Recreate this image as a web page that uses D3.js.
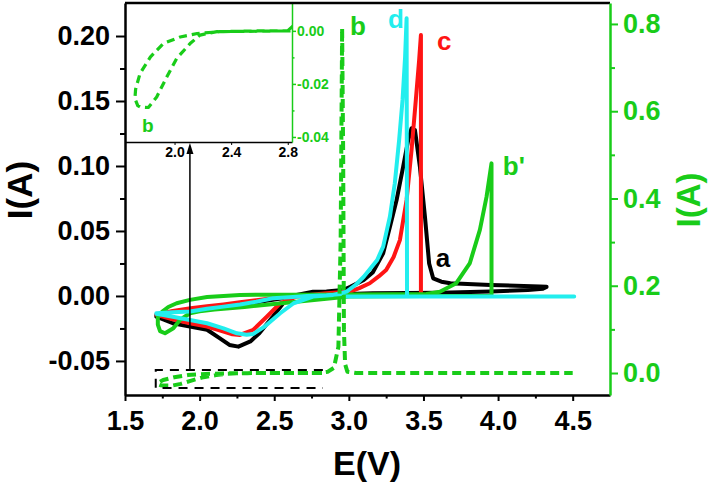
<!DOCTYPE html>
<meta charset="utf-8">
<style>
body { margin: 0; background: #fff; }
svg { font-family: Arial, "Liberation Sans", sans-serif; font-weight: bold; }
.curve { fill: none; stroke-width: 4px; stroke-linejoin: round; stroke-linecap: round; }
</style>
<body>
<script src="https://d3js.org/d3.v7.min.js"></script>
<script>

// ticks and labels
var xTicks = [1.5, 2.0, 2.5, 3.0, 3.5, 4.0, 4.5];
var xTickLabels = ["1.5", "2.0", "2.5", "3.0", "3.5", "4.0", "4.5"];
var xMinor = [1.75, 2.25, 2.75, 3.25, 3.75, 4.25];
var leftTicks = [-0.05, 0, 0.05, 0.10, 0.15, 0.20];
var leftTickLabels = ["-0.05", "0.00", "0.05", "0.10", "0.15", "0.20"];
var leftMinor = [-0.025, 0.025, 0.075, 0.125, 0.175];
var rightTicks = [0, 0.2, 0.4, 0.6, 0.8];
var rightTickLabels = ["0.0", "0.2", "0.4", "0.6", "0.8"];
var rightMinor = [0.1, 0.3, 0.5, 0.7];
var insetXTicks = [2.0, 2.4, 2.8];
var insetXTickLabels = ["2.0", "2.4", "2.8"];
var insetYTicks = [0, -0.02, -0.04];
var insetYTickLabels = ["0.00", "-0.02", "-0.04"];
var insetYMinor = [-0.01, -0.03];

// curve a (black), [E, I] on left axis
var curveA = [
  [2.96, 0.003], [2.85, 0.0028], [2.72, 0.0012], [2.6, -0.001], [2.49, -0.003], [2.38, -0.0048],
  [2.27, -0.0069], [2.16, -0.0085], [2.05, -0.0097], [1.94, -0.0108], [1.82, -0.0122], [1.71, -0.0146],
  [1.71, -0.016], [1.82, -0.021], [1.935, -0.0236], [2.05, -0.026], [2.136, -0.0326], [2.20, -0.0377],
  [2.26, -0.039], [2.34, -0.035], [2.40, -0.0287], [2.49, -0.016], [2.56, -0.0056], [2.65, 0.0008],
  [2.76, 0.0033], [2.85, 0.0035], [2.96, 0.0046], [3.01, 0.007], [3.10, 0.0123], [3.16, 0.018],
  [3.23, 0.0328], [3.275, 0.053], [3.32, 0.0738], [3.364, 0.0995], [3.398, 0.12], [3.42, 0.129],
  [3.443, 0.1277], [3.476, 0.0995], [3.51, 0.061], [3.538, 0.025], [3.565, 0.0136], [3.62, 0.011],
  [3.68, 0.0098], [3.95, 0.0085], [4.28, 0.0072], [4.325, 0.007],
  [4.30, 0.0055], [4.2, 0.0045], [3.95, 0.0035], [3.61, 0.0025], [3.16, 0.002], [3.0, 0.0015]
];

// curve c (red)
var curveC = [
  [3.0, 0.0005], [2.85, 0.0005], [2.72, 0.0], [2.6, -0.0008], [2.49, -0.0018], [2.38, -0.0032],
  [2.27, -0.0048], [2.16, -0.0065], [2.05, -0.008], [1.94, -0.0095], [1.82, -0.0115], [1.71, -0.0142],
  [1.71, -0.0145], [1.82, -0.018], [1.935, -0.021], [2.05, -0.0235], [2.15, -0.027], [2.22, -0.0295],
  [2.27, -0.030], [2.36, -0.026], [2.45, -0.016], [2.54, -0.0056], [2.65, -0.0005], [2.75, 0.001],
  [2.85, 0.002], [2.96, 0.003], [3.007, 0.0033], [3.07, 0.006], [3.14, 0.0098], [3.20, 0.015],
  [3.25, 0.02], [3.30, 0.03], [3.342, 0.043], [3.387, 0.0738], [3.42, 0.112], [3.449, 0.151],
  [3.471, 0.1815], [3.483, 0.2008], [3.483, 0.0], [3.3, 0.0], [3.0, 0.0005]
];

// curve d (cyan)
var curveD = [
  [2.95, 0.0015], [2.85, 0.0005], [2.72, 0.0], [2.6, -0.001], [2.49, -0.0018], [2.38, -0.0044],
  [2.27, -0.0065], [2.16, -0.0082], [2.05, -0.0098], [1.935, -0.012], [1.82, -0.0125], [1.71, -0.0133],
  [1.71, -0.0138], [1.82, -0.016], [1.935, -0.0185], [2.05, -0.021], [2.16, -0.0249], [2.25, -0.0287],
  [2.315, -0.0298], [2.36, -0.0292], [2.43, -0.024], [2.54, -0.0133], [2.63, -0.0056], [2.76, -0.0005],
  [2.895, 0.0008], [2.985, 0.0033], [3.05, 0.009], [3.10, 0.0148], [3.19, 0.0277], [3.23, 0.038],
  [3.275, 0.061], [3.308, 0.0867], [3.337, 0.12], [3.36, 0.151], [3.377, 0.184], [3.387, 0.2136],
  [3.39, -0.0005], [4.51, -0.0005], [2.97, -0.0005]
];

// curve b' (green solid, left axis)
var curveB1 = [
  [1.72, -0.016], [1.75, -0.012], [1.79, -0.0085], [1.846, -0.0056], [1.935, -0.003], [2.05, -0.0008],
  [2.27, 0.0008], [2.6, 0.001], [3.0, 0.0012], [3.3, 0.0013], [3.52, 0.0015], [3.61, 0.0033],
  [3.72, 0.0098], [3.81, 0.025], [3.878, 0.0508], [3.923, 0.0764], [3.956, 0.102], [3.956, 0.0],
  [3.5, 0.0], [3.0, -0.0005], [2.6, -0.005], [2.3, -0.0085], [2.1, -0.0105], [2.0, -0.0118],
  [1.935, -0.0133], [1.868, -0.0185], [1.824, -0.0249], [1.768, -0.0287], [1.735, -0.027],
  [1.72, -0.022], [1.72, -0.016]
];

// curve b (green dashed, right axis and inset)
var curveB = [
  [2.82, 0.0], [2.6, 0.0], [2.4, -0.0002], [2.32, -0.0003], [2.16, -0.001], [2.04, -0.0023],
  [1.92, -0.0048], [1.83, -0.0098], [1.756, -0.0161], [1.725, -0.022], [1.72, -0.0255],
  [1.74, -0.0282], [1.756, -0.0287], [1.815, -0.0289], [1.874, -0.0249], [1.945, -0.0174],
  [2.015, -0.0104], [2.11, -0.0048], [2.18, -0.0016], [2.25, -0.0008], [2.3, -0.0003],
  [2.5, -0.0002], [2.8, 0.0], [2.86, 0.003], [2.90, 0.012], [2.93, 0.06], [2.945, 0.3],
  [2.955, 0.79], [2.962, 0.5], [2.967, 0.1], [2.975, 0.02], [2.99, 0.003], [3.05, 0.0], [4.5, 0.0]
];

// zoom box around the b region (E, I on left axis)
var zoomBox = [[2.826, -0.0569], [1.706, -0.0569], [1.706, -0.0708], [2.826, -0.0708]];

var green = "#19cc19";

var svg = d3.select("body").append("svg")
    .attr("width", 708)
    .attr("height", 485);

var x = d3.scaleLinear().domain([1.5, 4.75]).range([125, 610]);
var yL = d3.scaleLinear().domain([-0.0762, 0.2254]).range([395, 3]);
var yR = d3.scaleLinear().domain([-0.0504, 0.848]).range([395, 3]);
var ix = d3.scaleLinear().domain([1.65, 2.83]).range([125, 292]);
var iy = d3.scaleLinear().domain([-0.0419, 0.0105]).range([142, 3]);

svg.append("clipPath").attr("id", "plotclip")
  .append("rect").attr("x", 125).attr("y", 3).attr("width", 485).attr("height", 392);
svg.append("clipPath").attr("id", "insetclip")
  .append("rect").attr("x", 125).attr("y", 3).attr("width", 167).attr("height", 139);

var lineL = d3.line().x(function(d) { return x(d[0]); }).y(function(d) { return yL(d[1]); });
var lineR = d3.line().x(function(d) { return x(d[0]); }).y(function(d) { return yR(d[1]); });
var lineI = d3.line().x(function(d) { return ix(d[0]); }).y(function(d) { return iy(d[1]); });

var plot = svg.append("g").attr("clip-path", "url(#plotclip)");

plot.append("path").datum(curveA).attr("class", "curve").attr("stroke", "#000").attr("d", lineL);
plot.append("path").datum(curveC).attr("class", "curve").attr("stroke", "#ff1414").attr("d", lineL);
plot.append("path").datum(curveB1).attr("class", "curve").attr("stroke", green).attr("d", lineL);
plot.append("path").datum(curveD).attr("class", "curve").attr("stroke", "#22eeee").attr("d", lineL);
plot.append("path").datum(curveB).attr("class", "curve").attr("stroke", green)
    .style("stroke-dasharray", "9,5").style("stroke-linecap", "butt").attr("d", lineR);

// dashed zoom box
plot.append("path").datum(zoomBox)
    .attr("fill", "none").attr("stroke", "#000").attr("stroke-width", 2)
    .style("stroke-dasharray", "9,7").attr("d", lineL);

// arrow up to the inset
var ax = x(1.935);
svg.append("line").attr("x1", ax).attr("x2", ax).attr("y1", yL(-0.0569)).attr("y2", 150)
    .attr("stroke", "#000").attr("stroke-width", 1.5);
svg.append("path").attr("d", "M" + ax + ",143L" + (ax - 3.5) + ",154L" + (ax + 3.5) + ",154Z").attr("fill", "#000");

// curve labels
function label(t, px, py, col, size) {
  svg.append("text").attr("x", px).attr("y", py).attr("fill", col)
      .style("font-size", size + "px").text(t);
}
label("d", x(3.262), yL(0.206), "#22eeee", 26);
label("c", x(3.59), yL(0.189), "#ff1414", 26);
label("b", x(3.007), yL(0.2008), green, 26);
label("a", x(3.583), yL(0.0223), "#000", 26);
label("b'", x(4.032), yL(0.093), green, 26);

// inset
var inset = svg.append("g");
inset.append("rect").attr("x", 125).attr("y", 3).attr("width", 167).attr("height", 139).attr("fill", "#fff");
inset.append("g").attr("clip-path", "url(#insetclip)")
  .append("path").datum(curveB).attr("class", "curve").attr("stroke", green)
    .style("stroke-width", "3.2px").style("stroke-dasharray", "8,5").style("stroke-linecap", "butt")
    .attr("d", lineI);
inset.append("text").attr("x", ix(1.77)).attr("y", iy(-0.0382)).attr("fill", green)
    .style("font-size", "19px").text("b");

var ixAxis = inset.append("g").attr("transform", "translate(0,142)")
    .call(d3.axisBottom(ix).tickValues(insetXTicks).tickSize(3).tickPadding(2).tickSizeOuter(0)
      .tickFormat(function(d, i) { return insetXTickLabels[i]; }));
ixAxis.selectAll("text").style("font-size", "14px").attr("fill", "#000");
ixAxis.select(".domain").attr("stroke-width", 1.5);

var iyAxis = inset.append("g").attr("transform", "translate(292,0)")
    .call(d3.axisRight(iy).tickValues(insetYTicks).tickSize(4).tickPadding(1).tickSizeOuter(0)
      .tickFormat(function(d, i) { return insetYTickLabels[i]; }));
iyAxis.selectAll("text").style("font-size", "14px").attr("fill", green);
iyAxis.selectAll("line").attr("stroke", green).attr("stroke-width", 1.5);
iyAxis.select(".domain").attr("stroke", green).attr("stroke-width", 1.5);
inset.append("g").attr("transform", "translate(292,0)")
    .call(d3.axisRight(iy).tickValues(insetYMinor).tickSize(2.5).tickFormat("").tickSizeOuter(0))
    .call(function(g) { g.select(".domain").remove(); g.selectAll("line").attr("stroke", green).attr("stroke-width", 1.5); });

// main axes
function styleAxis(g, col, size) {
  g.select(".domain").attr("stroke", col).attr("stroke-width", 2.5);
  g.selectAll(".tick line").attr("stroke", col).attr("stroke-width", 2);
  g.selectAll(".tick text").attr("fill", col).style("font-size", size + "px");
}

svg.append("line").attr("x1", 125).attr("x2", 610).attr("y1", 3).attr("y2", 3)
    .attr("stroke", "#000").attr("stroke-width", 2.5);

svg.append("g").attr("transform", "translate(0,395)")
    .call(d3.axisBottom(x).tickValues(xTicks).tickSize(6).tickPadding(10).tickSizeOuter(0)
      .tickFormat(function(d, i) { return xTickLabels[i]; }))
    .call(styleAxis, "#000", 27);
svg.append("g").attr("transform", "translate(0,395)")
    .call(d3.axisBottom(x).tickValues(xMinor).tickSize(3.5).tickFormat("").tickSizeOuter(0))
    .call(function(g) { g.select(".domain").remove(); g.selectAll("line").attr("stroke-width", 2); });

svg.append("g").attr("transform", "translate(125,0)")
    .call(d3.axisLeft(yL).tickValues(leftTicks).tickSize(9).tickPadding(6).tickSizeOuter(0)
      .tickFormat(function(d, i) { return leftTickLabels[i]; }))
    .call(styleAxis, "#000", 27);
svg.append("g").attr("transform", "translate(125,0)")
    .call(d3.axisLeft(yL).tickValues(leftMinor).tickSize(5).tickFormat("").tickSizeOuter(0))
    .call(function(g) { g.select(".domain").remove(); g.selectAll("line").attr("stroke-width", 2); });

svg.append("g").attr("transform", "translate(610,0)")
    .call(d3.axisRight(yR).tickValues(rightTicks).tickSize(8).tickPadding(5).tickSizeOuter(0)
      .tickFormat(function(d, i) { return rightTickLabels[i]; }))
    .call(styleAxis, green, 27);
svg.append("g").attr("transform", "translate(610,0)")
    .call(d3.axisRight(yR).tickValues(rightMinor).tickSize(5).tickFormat("").tickSizeOuter(0))
    .call(function(g) { g.select(".domain").remove(); g.selectAll("line").attr("stroke", green).attr("stroke-width", 2); });

// axis titles
svg.append("text").attr("x", 367).attr("y", 475).attr("text-anchor", "middle")
    .style("font-size", "34px").text("E(V)");
svg.append("text").attr("transform", "translate(32,190) rotate(-90)").attr("text-anchor", "middle")
    .style("font-size", "35px").text("I(A)");
svg.append("text").attr("transform", "translate(700,200) rotate(-90)").attr("text-anchor", "middle")
    .attr("fill", green).style("font-size", "33px").text("I(A)");

</script>
</body>
